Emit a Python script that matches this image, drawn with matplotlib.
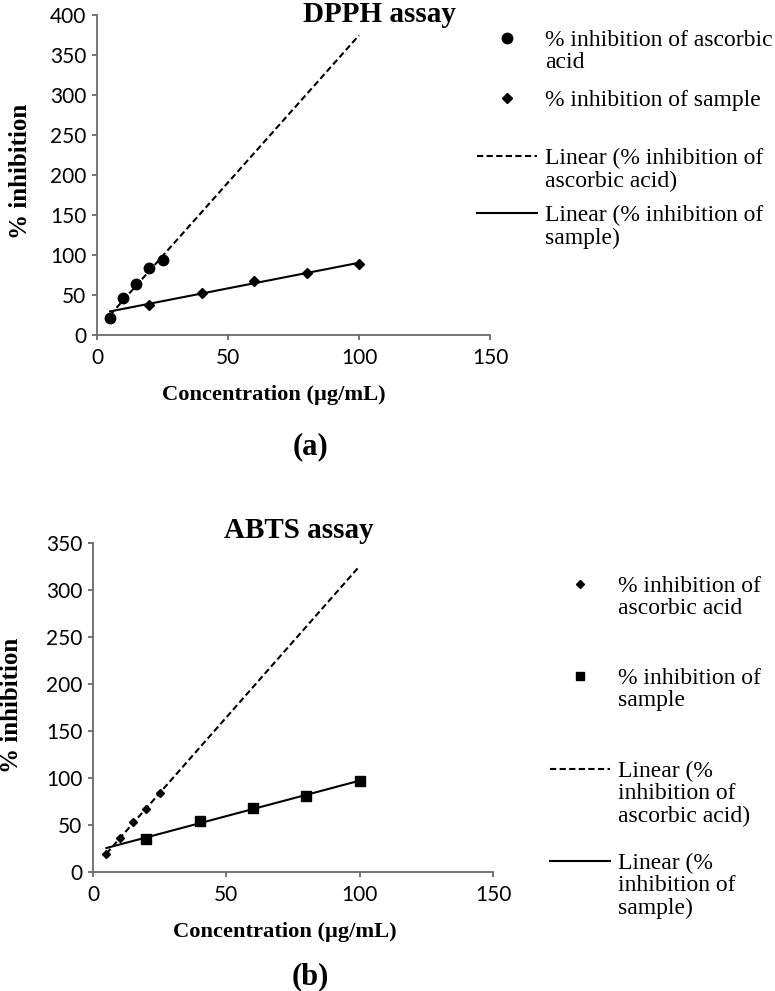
import numpy as np
import matplotlib
matplotlib.use("Agg")
import matplotlib.pyplot as plt
from matplotlib.offsetbox import HPacker

# ---- data ----
conc_aa = [5, 10, 15, 20, 25]
conc_sample = [20, 40, 60, 80, 100]

dpph_aa = [21, 46, 64, 84, 94]
dpph_sample = [37.5, 52, 68, 77, 89]

abts_aa = [19, 36, 53, 67, 84]
abts_sample = [35, 54, 68, 81, 97]

xticks = [0, 50, 100, 150]

W, H = 775, 991
serif = "Liberation Serif"
tickfont = "Lato"
axis_gray = "#6a6a6a"


def fx(px):
    return px / W


def fy(py):
    return 1 - py / H


def trend(x, y, xr):
    k, b = np.polyfit(x, y, 1)
    xr = np.asarray(xr, dtype=float)
    return xr, k * xr + b


def style_axes(ax, ymax):
    ax.set_xlim(0, 150)
    ax.set_ylim(0, ymax)
    ax.set_xticks(xticks)
    ax.set_yticks(np.arange(0, ymax + 1, 50))
    for s in ["top", "right"]:
        ax.spines[s].set_visible(False)
    for s in ["left", "bottom"]:
        ax.spines[s].set_color(axis_gray)
        ax.spines[s].set_linewidth(1.3)
    ax.tick_params(direction="out", length=3.6, width=1.3, color=axis_gray,
                   labelsize=15)
    ax.tick_params(axis="x", pad=6)
    ax.tick_params(axis="y", pad=4)
    for lab in ax.get_xticklabels() + ax.get_yticklabels():
        lab.set_fontfamily(tickfont)


def add_entry(fig, handle, label, x_px, y_px, markerscale=1.0):
    leg = fig.legend(handles=[handle], labels=[label], loc="upper left",
                     bbox_to_anchor=(fx(x_px), fy(y_px)), frameon=False,
                     borderpad=0, borderaxespad=0, handlelength=2.55,
                     handletextpad=0.34, handleheight=0.55, markerscale=markerscale,
                     prop={"family": serif, "size": 17})
    for hp in leg.findobj(HPacker):
        hp.align = "top"
    for t in leg.get_texts():
        t.set_linespacing(1.08)
    return leg


fig = plt.figure(figsize=(W / 100, H / 100), dpi=100)

# ---------------- (a) DPPH ----------------
ax1 = fig.add_axes([fx(97), fy(335), fx(490) - fx(97), (335 - 15) / H])
style_axes(ax1, 400)
xr = [min(conc_aa + conc_sample), max(conc_aa + conc_sample)]
tx, ty = trend(conc_aa, dpph_aa, xr)
l_aa, = ax1.plot(tx, ty, color="black", lw=1.5, linestyle=(0, (3, 1.6)))
tx, ty = trend(conc_sample, dpph_sample, xr)
l_s, = ax1.plot(tx, ty, color="black", lw=1.5)
m_aa, = ax1.plot(conc_aa, dpph_aa, "o", color="black", ms=7.5, linestyle="none")
m_s, = ax1.plot(conc_sample, dpph_sample, "D", color="black", ms=5, linestyle="none")

fig.text(fx(379), fy(15), "DPPH assay", family=serif, weight="bold", size=21,
         ha="center", va="center")
fig.text(fx(21), fy(171), "% inhibition", family=serif, weight="bold", size=18,
         rotation=90, ha="center", va="center")
fig.text(fx(274), fy(395), "Concentration (\u00b5g/mL)", family=serif,
         weight="bold", size=16.2, ha="center", va="center")
fig.text(fx(310), fy(447), "(a)", family=serif, weight="bold", size=22,
         ha="center", va="center")

add_entry(fig, m_aa, "% inhibition of ascorbic\nacid", 477, 30)
add_entry(fig, m_s, "% inhibition of sample", 477, 90)
add_entry(fig, l_aa, "Linear (% inhibition of\nascorbic acid)", 477, 148)
add_entry(fig, l_s, "Linear (% inhibition of\nsample)", 477, 205)

# ---------------- (b) ABTS ----------------
ax2 = fig.add_axes([fx(93), fy(872), fx(493) - fx(93), (872 - 543) / H])
style_axes(ax2, 350)
tx, ty = trend(conc_aa, abts_aa, xr)
l2_aa, = ax2.plot(tx, ty, color="black", lw=1.5, linestyle=(0, (3, 1.6)))
tx, ty = trend(conc_sample, abts_sample, xr)
l2_s, = ax2.plot(tx, ty, color="black", lw=1.5)
m2_aa, = ax2.plot(conc_aa, abts_aa, "D", color="black", ms=3.6, linestyle="none")
m2_s, = ax2.plot(conc_sample, abts_sample, "s", color="black", ms=7, linestyle="none")

fig.text(fx(299), fy(530), "ABTS assay", family=serif, weight="bold", size=21,
         ha="center", va="center")
fig.text(fx(12), fy(705), "% inhibition", family=serif, weight="bold", size=18,
         rotation=90, ha="center", va="center")
fig.text(fx(285), fy(932), "Concentration (\u00b5g/mL)", family=serif,
         weight="bold", size=16.2, ha="center", va="center")
fig.text(fx(310), fy(977), "(b)", family=serif, weight="bold", size=22,
         ha="center", va="center")

add_entry(fig, m2_aa, "% inhibition of\nascorbic acid", 550, 576)
add_entry(fig, m2_s, "% inhibition of\nsample", 550, 668, 0.85)
add_entry(fig, l2_aa, "Linear (%\ninhibition of\nascorbic acid)", 550, 761)
add_entry(fig, l2_s, "Linear (%\ninhibition of\nsample)", 550, 853)

fig.savefig("out.png", dpi=100)
